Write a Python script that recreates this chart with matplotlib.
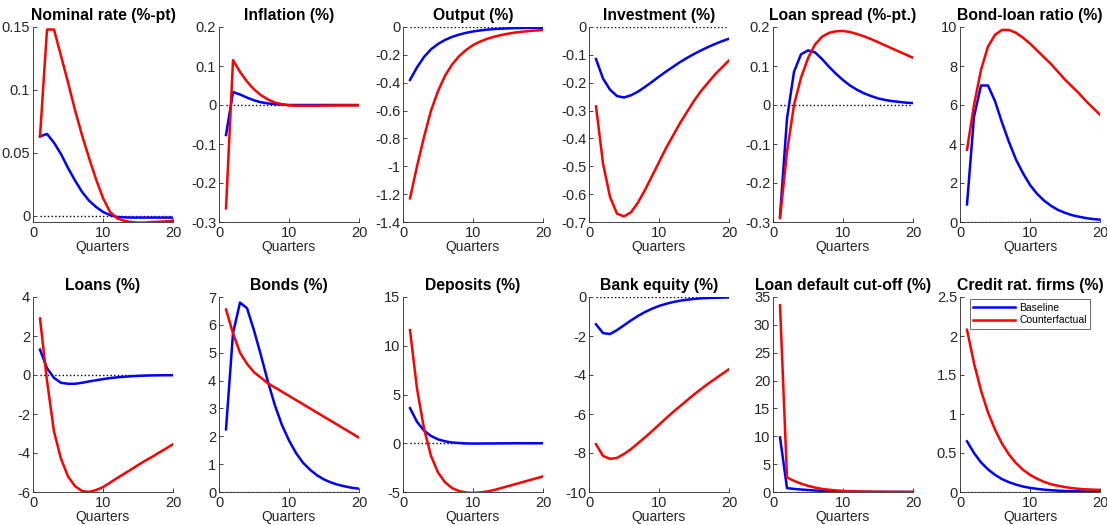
import matplotlib
matplotlib.use("Agg")
import matplotlib.pyplot as plt
import numpy as np

quarters = np.arange(1, 21)

titles = ["Nominal rate (%-pt)", "Inflation (%)", "Output (%)", "Investment (%)",
          "Loan spread (%-pt.)", "Bond-loan ratio (%)",
          "Loans (%)", "Bonds (%)", "Deposits (%)", "Bank equity (%)",
          "Loan default cut-off (%)", "Credit rat. firms (%)"]

# baseline responses
nominal_base = [0.063, 0.065, 0.058, 0.049, 0.038, 0.028, 0.019, 0.012, 0.007, 0.003,
                0.0005, -0.001, -0.0013, -0.0015, -0.0015, -0.0015, -0.0015, -0.0015, -0.0015, -0.0015]
inflation_base = [-0.077, 0.033, 0.027, 0.019, 0.012, 0.007, 0.004, 0.002, 0.001, 0.0,
                  0, 0, 0, 0, 0, 0, 0, 0, 0, 0]
output_base = [-0.38, -0.29, -0.215, -0.16, -0.122, -0.093, -0.071, -0.055, -0.042, -0.032,
               -0.025, -0.019, -0.015, -0.012, -0.01, -0.008, -0.007, -0.006, -0.005, -0.005]
invest_base = [-0.115, -0.185, -0.225, -0.248, -0.253, -0.245, -0.232, -0.215, -0.197, -0.178,
               -0.16, -0.143, -0.126, -0.111, -0.097, -0.084, -0.072, -0.061, -0.051, -0.042]
spread_base = [-0.285, -0.035, 0.085, 0.13, 0.14, 0.135, 0.118, 0.098, 0.08, 0.064,
               0.05, 0.039, 0.03, 0.023, 0.017, 0.013, 0.01, 0.008, 0.006, 0.005]
bondloan_base = [0.9, 5.4, 7.0, 7.0, 6.2, 5.1, 4.1, 3.2, 2.5, 1.9,
                 1.45, 1.1, 0.83, 0.62, 0.47, 0.35, 0.27, 0.2, 0.15, 0.12]
loans_base = [1.3, 0.35, -0.15, -0.4, -0.45, -0.45, -0.4, -0.33, -0.27, -0.21,
              -0.16, -0.12, -0.09, -0.065, -0.045, -0.03, -0.02, -0.015, -0.01, -0.01]
bonds_base = [2.25, 5.7, 6.8, 6.6, 5.8, 4.9, 3.95, 3.1, 2.4, 1.85,
              1.4, 1.05, 0.8, 0.6, 0.45, 0.34, 0.26, 0.2, 0.15, 0.12]
deposits_base = [3.6, 2.2, 1.3, 0.75, 0.4, 0.2, 0.08, 0.02, -0.02, -0.03,
                 -0.03, -0.02, -0.02, -0.01, -0.01, 0, 0, 0, 0, 0]
equity_base = [-1.4, -1.85, -1.9, -1.7, -1.45, -1.2, -0.97, -0.77, -0.6, -0.46,
               -0.35, -0.26, -0.19, -0.14, -0.1, -0.07, -0.05, -0.04, -0.03, -0.02]
cutoff_base = [9.8, 0.7, 0.55, 0.45, 0.35, 0.27, 0.2, 0.15, 0.11, 0.08,
               0.06, 0.04, 0.03, 0.02, 0.02, 0.01, 0.01, 0.01, 0.01, 0.01]
credit_base = [0.65, 0.5, 0.38, 0.29, 0.22, 0.165, 0.125, 0.095, 0.07, 0.053,
               0.04, 0.03, 0.023, 0.017, 0.013, 0.01, 0.008, 0.006, 0.005, 0.004]

# counterfactual responses
nominal_cf = [0.063, 0.148, 0.148, 0.127, 0.106, 0.084, 0.064, 0.046, 0.029, 0.014,
              0.003, -0.002, -0.004, -0.005, -0.0055, -0.0055, -0.005, -0.0048, -0.0045, -0.004]
inflation_cf = [-0.265, 0.115, 0.085, 0.06, 0.04, 0.025, 0.014, 0.006, 0.002, -0.001,
                -0.002, -0.002, -0.002, -0.002, -0.0015, -0.0015, -0.001, -0.001, -0.001, -0.001]
output_cf = [-1.23, -1.0, -0.79, -0.6, -0.46, -0.35, -0.27, -0.21, -0.165, -0.13,
             -0.105, -0.085, -0.07, -0.058, -0.048, -0.04, -0.034, -0.029, -0.025, -0.022]
invest_cf = [-0.285, -0.49, -0.61, -0.67, -0.68, -0.665, -0.63, -0.585, -0.535, -0.485,
             -0.435, -0.39, -0.345, -0.305, -0.265, -0.23, -0.2, -0.17, -0.145, -0.12]
spread_cf = [-0.29, -0.12, 0.0, 0.07, 0.12, 0.155, 0.175, 0.185, 0.189, 0.19,
             0.187, 0.182, 0.176, 0.169, 0.161, 0.153, 0.145, 0.137, 0.129, 0.121]
bondloan_cf = [3.7, 6.0, 7.8, 9.0, 9.6, 9.85, 9.85, 9.7, 9.45, 9.15,
               8.8, 8.45, 8.1, 7.7, 7.3, 6.95, 6.6, 6.2, 5.85, 5.5]
loans_cf = [2.9, -0.3, -2.9, -4.3, -5.2, -5.7, -5.95, -6.0, -5.9, -5.75,
            -5.52, -5.29, -5.07, -4.85, -4.62, -4.4, -4.2, -3.98, -3.77, -3.55]
bonds_cf = [6.55, 5.7, 5.0, 4.6, 4.3, 4.1, 3.9, 3.75, 3.6, 3.45,
            3.3, 3.15, 3.0, 2.85, 2.7, 2.55, 2.4, 2.25, 2.1, 1.95]
deposits_cf = [11.6, 5.6, 1.5, -1.3, -3.0, -4.0, -4.6, -4.9, -5.05, -5.1,
               -5.05, -4.95, -4.8, -4.6, -4.4, -4.2, -4.0, -3.8, -3.6, -3.4]
equity_cf = [-7.55, -8.15, -8.3, -8.25, -8.05, -7.8, -7.5, -7.2, -6.88, -6.55,
             -6.22, -5.9, -5.6, -5.3, -5.0, -4.72, -4.45, -4.2, -3.95, -3.7]
cutoff_cf = [33.5, 2.6, 2.0, 1.5, 1.1, 0.8, 0.55, 0.4, 0.28, 0.2,
             0.14, 0.1, 0.07, 0.05, 0.04, 0.03, 0.02, 0.02, 0.01, 0.01]
credit_cf = [2.08, 1.65, 1.3, 1.02, 0.8, 0.62, 0.48, 0.37, 0.285, 0.22,
             0.17, 0.13, 0.1, 0.08, 0.063, 0.05, 0.04, 0.034, 0.03, 0.027]

baseline = [nominal_base, inflation_base, output_base, invest_base, spread_base, bondloan_base,
            loans_base, bonds_base, deposits_base, equity_base, cutoff_base, credit_base]
counterfactual = [nominal_cf, inflation_cf, output_cf, invest_cf, spread_cf, bondloan_cf,
                  loans_cf, bonds_cf, deposits_cf, equity_cf, cutoff_cf, credit_cf]

ylims = [(-0.005, 0.15), (-0.3, 0.2), (-1.4, 0), (-0.7, 0), (-0.3, 0.2), (0, 10),
         (-6, 4), (0, 7), (-5, 15), (-10, 0), (0, 35), (0, 2.5)]
yticks = [[0, 0.05, 0.1, 0.15], np.arange(-0.3, 0.21, 0.1), np.arange(-1.4, 0.01, 0.2),
          np.arange(-0.7, 0.01, 0.1), np.arange(-0.3, 0.21, 0.1), np.arange(0, 11, 2),
          np.arange(-6, 5, 2), np.arange(0, 8, 1), np.arange(-5, 16, 5),
          np.arange(-10, 1, 2), np.arange(0, 36, 5), np.arange(0, 2.6, 0.5)]

plt.rcParams["font.family"] = ["Liberation Sans", "DejaVu Sans"]
GREY = "#262626"

fig = plt.figure(figsize=(11.07, 5.25), dpi=100)
lefts = [33, 219, 403, 589, 773, 960]
W, H = 1107, 525
rows = [(27, 222), (297, 492)]

for i in range(12):
    r, c = divmod(i, 6)
    top, bot = rows[r]
    ax = fig.add_axes([lefts[c] / W, 1 - bot / H, 140 / W, (bot - top) / H])
    ax.plot(quarters, np.zeros(len(quarters)), color="k", ls=":", lw=1.0)
    ax.plot(quarters, baseline[i], color="#0000ff", lw=1.8, label="Baseline")
    ax.plot(quarters, counterfactual[i], color="#ff0000", lw=1.8, label="Counterfactual")
    ax.set_xlim(0, 20)
    ax.set_xticks([0, 10, 20])
    ax.set_ylim(*ylims[i])
    ticks = np.round(yticks[i], 3) + 0.0
    ax.set_yticks(ticks)
    ax.set_yticklabels([f"{t:g}" if abs(t) > 1e-9 else "0" for t in ticks])
    ax.set_title(titles[i], fontsize=11.3, fontweight="bold", pad=5)
    ax.set_xlabel("Quarters", fontsize=10, color=GREY, labelpad=0)
    for s in ["top", "right"]:
        ax.spines[s].set_visible(False)
    for s in ["left", "bottom"]:
        ax.spines[s].set_color(GREY)
        ax.spines[s].set_linewidth(0.6)
    ax.tick_params(direction="in", length=3, width=0.6, colors=GREY, labelsize=10.5, pad=2)
    ax.tick_params(axis="x", pad=3)
    if i == 11:
        leg = ax.legend(loc="upper right", fontsize=7.5, frameon=True, fancybox=False,
                        borderpad=0.35, handlelength=4.0, labelspacing=0.25, handletextpad=0.4,
                        bbox_to_anchor=(0.93, 0.99), borderaxespad=0)
        leg.get_frame().set_edgecolor(GREY)
        leg.get_frame().set_linewidth(0.6)

fig.savefig("out.png", dpi=100)
